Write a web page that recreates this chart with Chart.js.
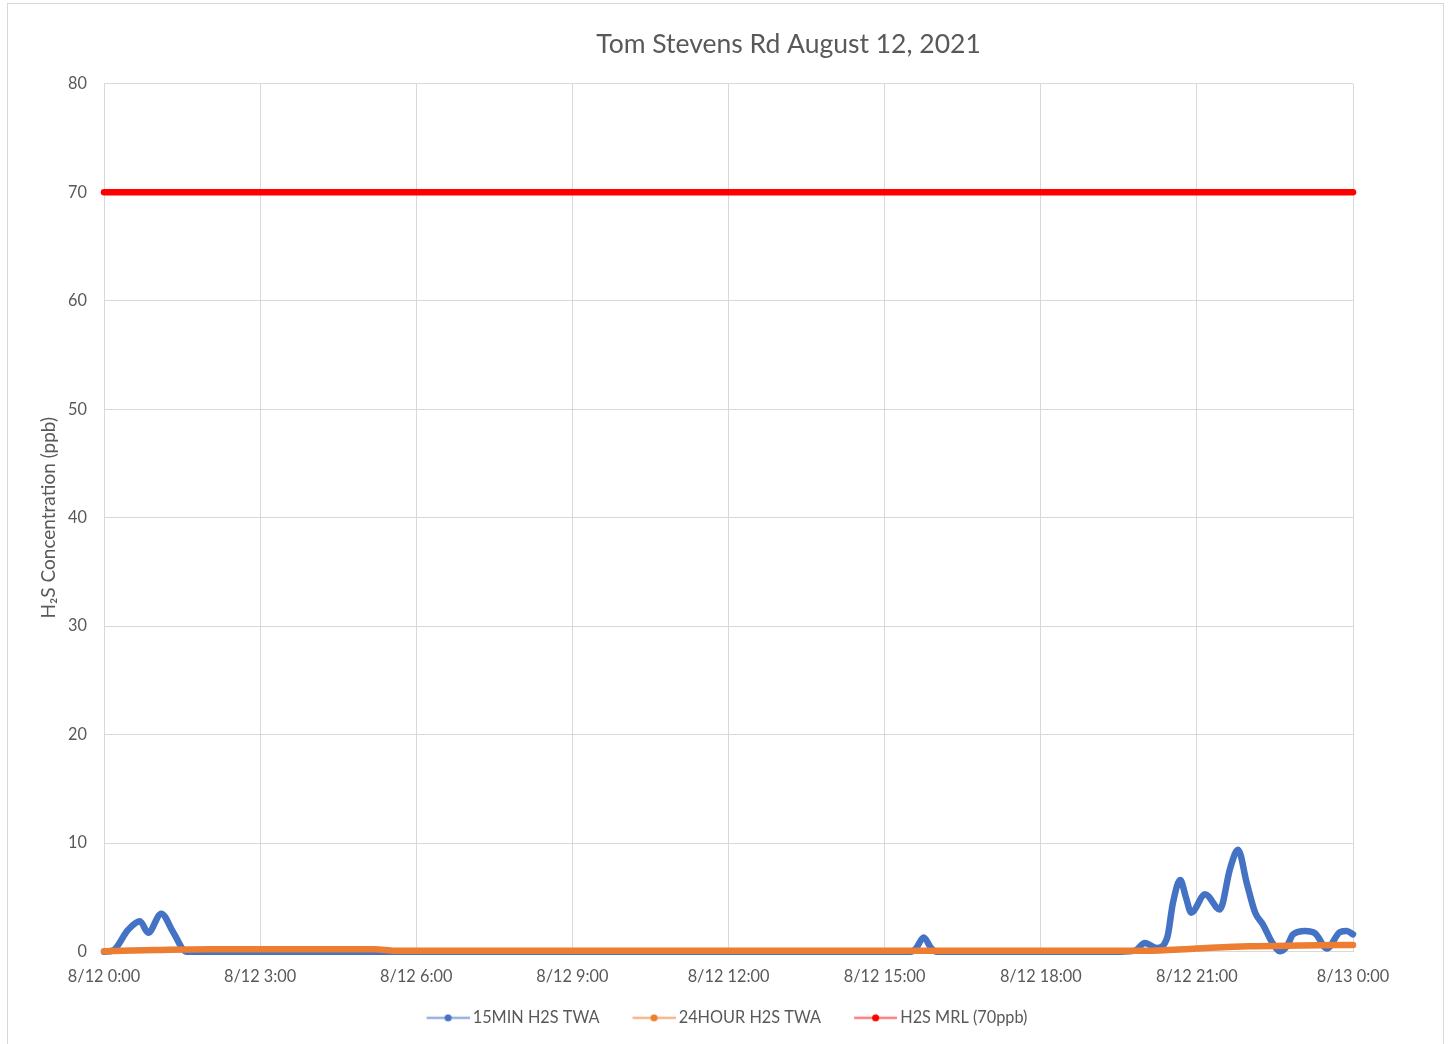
<!DOCTYPE html>
<html>
<head>
<meta charset="utf-8">
<script src="https://cdn.jsdelivr.net/npm/chart.js@4/dist/chart.umd.min.js"></script>
<style>
  html, body { margin: 0; padding: 0; background: #ffffff; overflow: hidden; }
  #frame { position: absolute; left: 7px; top: 3px; width: 1437px; height: 1060px; border: 1px solid #D9D9D9; box-sizing: border-box; }
  #wrap { position: absolute; left: 0; top: 0; width: 1435px; height: 1040px; }
</style>
</head>
<body>
<div id="frame"><div id="wrap"><canvas id="c"></canvas></div></div>
<script>
// ---- Data (hours since 8/12 0:00, ppb) ----
const chartTitle = "Tom Stevens Rd August 12, 2021";
const yAxisTitle = "H\u2082S Concentration (ppb)";
const seriesNames = ["15MIN H2S TWA", "24HOUR H2S TWA", "H2S MRL (70ppb)"];
const xTickLabels = ["8/12 0:00", "8/12 3:00", "8/12 6:00", "8/12 9:00", "8/12 12:00", "8/12 15:00", "8/12 18:00", "8/12 21:00", "8/13 0:00"];

const min15Times  = [0, 0.17, 0.46, 0.69, 0.85, 1.10, 1.33, 1.58, 15.5, 15.6, 15.75, 15.9, 16.0, 19.52, 19.81, 20.0, 20.23, 20.43, 20.54, 20.68, 20.79, 20.89, 21.16, 21.44, 21.64, 21.79, 21.96, 22.12, 22.27, 22.44, 22.6, 22.73, 22.85, 23.08, 23.27, 23.5, 23.75, 23.88, 24];
const min15Values = [0, 0.1, 2.0, 2.8, 1.75, 3.5, 1.8, 0, 0, 0.3, 1.3, 0.3, 0, 0, 0.1, 0.8, 0.35, 1.3, 4.5, 6.6, 5.0, 3.6, 5.3, 3.9, 7.7, 9.4, 6.3, 3.6, 2.5, 0.9, 0.05, 0.5, 1.6, 1.9, 1.7, 0.3, 1.8, 1.9, 1.6];

const hour24Times  = [0, 1.0, 2.0, 5.2, 5.6, 20.0, 21.0, 22.0, 23.0, 24];
const hour24Values = [0.05, 0.15, 0.22, 0.22, 0.08, 0.08, 0.3, 0.5, 0.57, 0.62];

const mrlTimes  = [0, 24];
const mrlValues = [70, 70];

const colors = ["#4472C4", "#ED7D31", "#FF0000"];
const lightColors = ["rgba(68,114,196,0.55)", "rgba(237,125,49,0.55)", "rgba(255,0,0,0.5)"];

function pts(xs, ys) { return xs.map((x, i) => ({ x: x, y: ys[i] })); }

// legend icon: light line with a solid dot
function legendIcon(i) {
  const c = document.createElement('canvas');
  c.width = 67; c.height = 12;
  const g = c.getContext('2d');
  g.strokeStyle = lightColors[i];
  g.lineWidth = 2.5;
  g.beginPath(); g.moveTo(24, 6); g.lineTo(67, 6); g.stroke();
  g.fillStyle = colors[i];
  g.beginPath(); g.arc(45.5, 6, 3.5, 0, Math.PI * 2); g.fill();
  return c;
}
const icons = [0, 1, 2].map(legendIcon);

const FONT = "Lato, 'Open Sans', sans-serif";
const GREY = "#595959";

const boxShift = {
  id: 'boxShift',
  afterLayout(chart) {
    const t = chart.titleBlock;
    if (t) { t.left += 108; t.right += 108; }
    const l = chart.legend;
    if (l) { l.left += 37; l.right += 37; }
  }
};

new Chart(document.getElementById('c'), {
  type: 'line',
  data: {
    datasets: [
      { label: seriesNames[0], data: pts(min15Times, min15Values), borderColor: colors[0], backgroundColor: colors[0], borderWidth: 6.5, pointRadius: 0, cubicInterpolationMode: 'monotone', borderCapStyle: 'round', borderJoinStyle: 'round', order: 3, clip: false },
      { label: seriesNames[1], data: pts(hour24Times, hour24Values), borderColor: colors[1], backgroundColor: colors[1], borderWidth: 6.5, pointRadius: 0, cubicInterpolationMode: 'monotone', borderCapStyle: 'round', borderJoinStyle: 'round', order: 2, clip: false },
      { label: seriesNames[2], data: pts(mrlTimes, mrlValues), borderColor: colors[2], backgroundColor: colors[2], borderWidth: 6.5, pointRadius: 0, borderCapStyle: 'round', order: 1, clip: false }
    ]
  },
  options: {
    responsive: true,
    maintainAspectRatio: false,
    animation: false,
    layout: { padding: { left: 0, right: 90, top: 0, bottom: 8 } },
    scales: {
      x: {
        type: 'linear',
        min: 0, max: 24,
        afterFit(s) { s.height = 44; },
        grid: { color: '#D9D9D9', lineWidth: 1, drawTicks: false },
        border: { display: false },
        ticks: {
          stepSize: 3,
          padding: 15,
          color: GREY,
          font: { family: FONT, size: 16.3 },
          maxRotation: 0,
          autoSkip: false,
          callback: (v) => xTickLabels[Math.round(v / 3)]
        }
      },
      y: {
        min: 0, max: 80,
        afterFit(s) { s.width = 96; },
        grid: { color: '#D9D9D9', lineWidth: 1, drawTicks: false },
        border: { display: false },
        ticks: { stepSize: 10, padding: 17, color: GREY, font: { family: FONT, size: 16.3 } },
        title: { display: true, text: yAxisTitle, color: GREY, font: { family: FONT, size: 19 }, padding: { top: 29, bottom: 0 } }
      }
    },
    plugins: {
      title: {
        display: true,
        text: chartTitle,
        color: GREY,
        font: { family: FONT, size: 26.5, weight: 'normal' },
        padding: { top: 25, bottom: 23 }
      },
      legend: {
        position: 'bottom',
        labels: {
          usePointStyle: true,
          pointStyleWidth: 57,
          boxHeight: 12,
          padding: 14,
          color: GREY,
          font: { family: FONT, size: 16.3 },
          sort: (a, b) => a.datasetIndex - b.datasetIndex,
          generateLabels(chart) {
            const items = Chart.defaults.plugins.legend.labels.generateLabels(chart);
            items.forEach((it) => { it.pointStyle = icons[it.datasetIndex]; it.fontColor = GREY; });
            return items;
          }
        }
      },
      tooltip: { enabled: false }
    }
  },
  plugins: [boxShift]
});
</script>
</body>
</html>
